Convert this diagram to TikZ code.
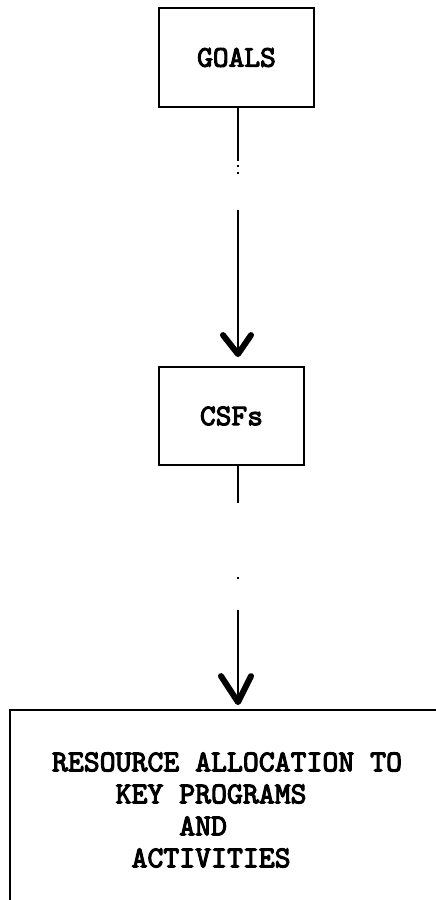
\documentclass[tikz,border=0pt]{standalone}
\usepackage{fontspec}
\newfontfamily\tw[BoldFont=lmmono10-regular.otf,BoldFeatures={FakeBold=3.5}]{lmmono10-regular.otf}
\usetikzlibrary{calc}
\tikzset{
  box/.style={draw, line width=1.8pt, inner sep=0pt, font=\tw\bfseries\fontsize{30}{32}\selectfont},
  flow/.style={line width=1.2pt},
  vtip/.style={line width=6pt, line cap=round, line join=round},
  label/.style={inner sep=0pt, align=left, font=\tw\bfseries\fontsize{30.3}{32}\selectfont}
}
\begin{document}
\begin{tikzpicture}[x=1pt,y=-1pt]
\useasboundingbox (0,0) rectangle (436,900);
\clip (0,0) rectangle (436,900);
\node[box, minimum width=155pt, minimum height=99pt] (goals) at (236.5,57.5) {GOALS};
\node[box, minimum width=145pt, minimum height=98pt] (csfs) at (231.5,416) {CSFs};
\node[draw, line width=1.8pt, minimum width=470pt, minimum height=230pt, inner sep=0pt] (resbox) at (245,825) {};
\node[label] (res) at (227,810) {RESOURCE ALLOCATION TO\\\hphantom{xxxx}KEY PROGRAMS\\\hphantom{xxxxxxxx}AND\\\hphantom{xxxxx}ACTIVITIES};
\coordinate (ax) at (238,0);
\draw[flow, shorten >=10pt, dash pattern=on 53pt off 4pt on 2pt off 5pt on 2pt off 36pt on 300pt]
  (goals.south -| ax) -- (csfs.north -| ax);
\draw[vtip] ($(csfs.north -| ax)+(-15,-31)$) -- ($(csfs.north -| ax)+(0,-12)$) -- ($(csfs.north -| ax)+(13,-31)$);
\draw[flow, shorten >=5pt, dash pattern=on 37pt off 74pt on 2pt off 31pt on 300pt]
  (csfs.south -| ax) -- (resbox.north -| ax);
\draw[vtip] ($(resbox.north -| ax)+(-17,-33)$) -- ($(resbox.north -| ax)+(0,-7)$) -- ($(resbox.north -| ax)+(13,-33)$);
\end{tikzpicture}
\end{document}
